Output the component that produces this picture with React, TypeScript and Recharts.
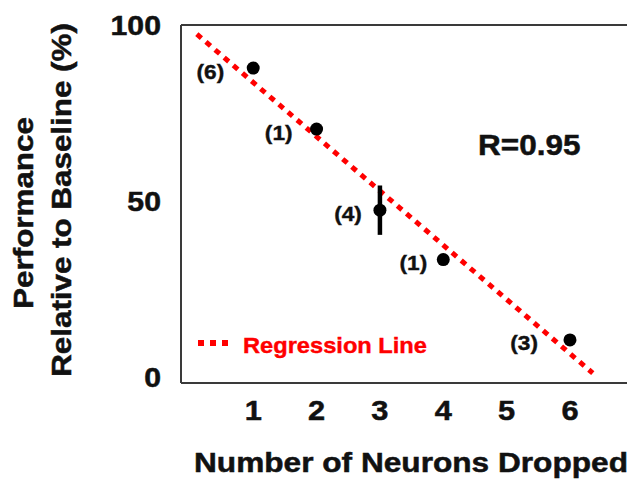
import React from 'react';
import { ComposedChart, Scatter, ErrorBar, XAxis, YAxis, ReferenceLine } from 'recharts';

// neurons dropped vs relative performance, n per group in brackets
const neurons = [1, 2, 3, 4, 6];
const performance = [87.8, 70.5, 47.5, 33.5, 10.7];
const errors = [0, 0, 7, 0, 0];
const counts = [6, 1, 4, 1, 3];

const xTicks = [1, 2, 3, 4, 5, 6];
const yTicks = [0, 50, 100];

// regression line end points
const regressionX = [0.11, 6.36];
const regressionY = [97.4, 1.3];

// how far each "(n)" label sits left of its dot (style only)
const labelGaps = [29, 24, 18, 16, 32];

const FONT = '"Liberation Sans", Arial, sans-serif';
const RED = '#ff0000';
const AXIS = '#3a3a3a';
const INK = '#111';

const points = neurons.map((x, i) => ({
  x,
  y: performance[i],
  err: errors[i],
  n: counts[i],
  gap: labelGaps[i],
}));

const segment = regressionX.map((x, i) => ({ x, y: regressionY[i] }));

const XTick = (props: any) => {
  const { x, y, payload } = props;
  return (
    <text
      transform={`translate(${x}, ${y + 37}) scale(1.1, 1)`}
      textAnchor="middle"
      fontFamily={FONT}
      fontWeight="bold"
      fontSize={28}
      fill={INK}
      stroke={INK}
      strokeWidth={0.5}
    >
      {payload.value}
    </text>
  );
};

const YTick = (props: any) => {
  const { x, y, payload } = props;
  return (
    <text
      transform={`translate(${x - 20}, ${y + 9.5}) scale(1.12, 1)`}
      textAnchor="end"
      fontFamily={FONT}
      fontWeight="bold"
      fontSize={27}
      fill={INK}
      stroke={INK}
      strokeWidth={0.5}
    >
      {payload.value}
    </text>
  );
};

const Dot = (props: any) => {
  const { cx, cy, payload } = props;
  return (
    <g>
      <circle cx={cx} cy={cy} r={6.5} fill="#000" />
      <text
        transform={`translate(${cx - payload.gap}, ${cy + 10.5}) scale(1.08, 1)`}
        textAnchor="end"
        fontFamily={FONT}
        fontWeight="bold"
        fontSize={21}
        fill={INK}
        stroke={INK}
        strokeWidth={0.4}
      >
        ({payload.n})
      </text>
    </g>
  );
};

export default function App() {
  return (
    <div style={{ position: 'relative', width: 627, height: 474, overflow: 'hidden', background: '#fff' }}>
      <ComposedChart
        width={650}
        height={474}
        margin={{ top: 17, right: 12, bottom: 39, left: 73 }}
      >
        <XAxis
          type="number"
          dataKey="x"
          domain={[-0.14, 7.2]}
          ticks={xTicks}
          allowDataOverflow
          height={60}
          tickLine={false}
          tickSize={0}
          tickMargin={0}
          axisLine={{ stroke: AXIS, strokeWidth: 2 }}
          tick={<XTick />}
        />
        <YAxis
          type="number"
          dataKey="y"
          domain={[-1.5, 100]}
          ticks={yTicks}
          allowDataOverflow
          width={100}
          tickLine={false}
          tickSize={0}
          tickMargin={0}
          axisLine={{ stroke: AXIS, strokeWidth: 2 }}
          tick={<YTick />}
        />
        <ReferenceLine y={100} stroke={AXIS} strokeWidth={2} />
        <ReferenceLine
          segment={segment}
          stroke={RED}
          strokeWidth={5}
          strokeDasharray="6 6"
        />
        <Scatter data={points} dataKey="y" shape={<Dot />} isAnimationActive={false}>
          <ErrorBar dataKey="err" direction="y" width={0} stroke="#000" strokeWidth={4.5} isAnimationActive={false} />
        </Scatter>
      </ComposedChart>

      <svg
        width={627}
        height={474}
        style={{ position: 'absolute', left: 0, top: 0, pointerEvents: 'none' }}
      >
        <g fontFamily={FONT} fontWeight="bold" fill={INK} stroke={INK} strokeWidth={0.5}>
          <text transform="translate(25, 205) rotate(-90) scale(1.12, 1)" textAnchor="middle" fontSize={28}>
            Performance
          </text>
          <text transform="translate(63, 192) rotate(-90) scale(1.12, 1)" textAnchor="middle" fontSize={28}>
            Relative to Baseline (%)
          </text>
          <text transform="translate(403, 464) scale(1.13, 1)" textAnchor="middle" fontSize={28}>
            Number of Neurons Dropped
          </text>
          <text transform="translate(470, 147) scale(1.05, 1)" fontSize={30}>
            R=0.95
          </text>
        </g>
        <line x1={190} y1={335} x2={220} y2={335} stroke={RED} strokeWidth={6} strokeDasharray="6 6" />
        <text
          transform="translate(235, 345) scale(1.1, 1)"
          fontFamily={FONT}
          fontWeight="bold"
          fontSize={21.5}
          fill={RED}
          stroke={RED}
          strokeWidth={0.4}
        >
          Regression Line
        </text>
      </svg>
    </div>
  );
}
